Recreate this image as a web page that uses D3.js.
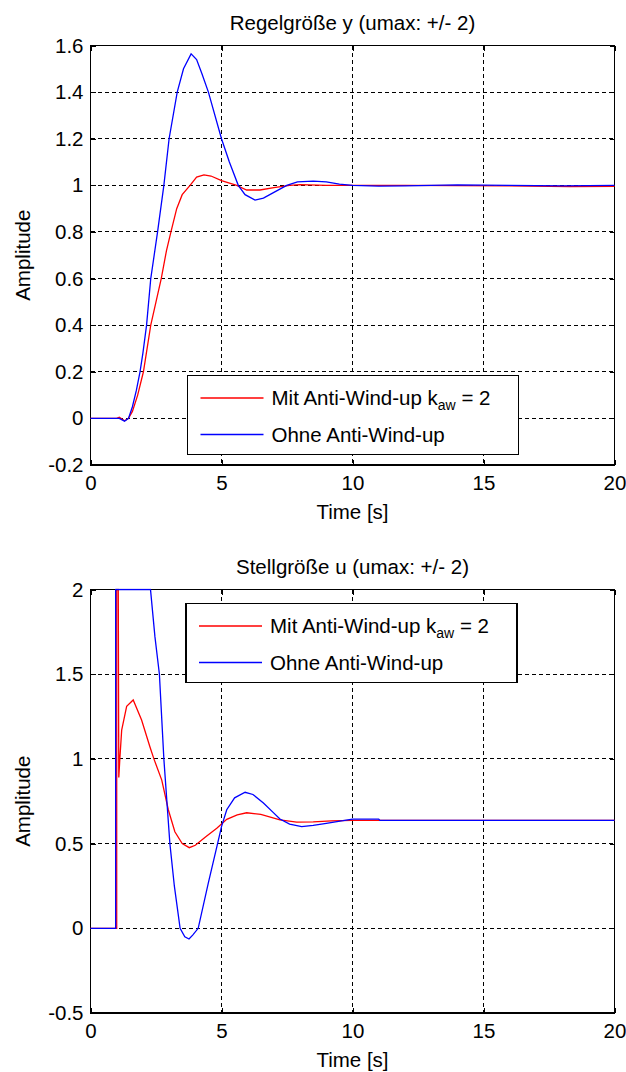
<!DOCTYPE html>
<html><head><meta charset="utf-8">
<script src="https://cdn.jsdelivr.net/npm/d3@7"></script>
<style>body{margin:0;background:#fff}svg{display:block}text{font-family:"Liberation Sans",Arial,sans-serif;fill:#000}</style>
</head><body>
<script>
// ---- data ----
const xTicks = [0, 5, 10, 15, 20];
const yTicksTop = [-0.2, 0, 0.2, 0.4, 0.6, 0.8, 1, 1.2, 1.4, 1.6];
const yTickLabelsTop = ["-0.2", "0", "0.2", "0.4", "0.6", "0.8", "1", "1.2", "1.4", "1.6"];
const yTicksBot = [-0.5, 0, 0.5, 1, 1.5, 2];
const yTickLabelsBot = ["-0.5", "0", "0.5", "1", "1.5", "2"];
const seriesNames = ["Mit Anti-Wind-up k", "Ohne Anti-Wind-up"];

// Regelgröße y, with anti-windup (red)
const tYRed = [0, 1.0, 1.1, 1.3, 1.45, 1.6, 1.8, 2.02, 2.3, 2.5, 2.7, 2.9, 3.07, 3.29, 3.5, 3.8, 4.05, 4.33, 4.6, 5.0, 5.58, 5.96, 6.47, 7.0, 7.6, 8.0, 9.0, 12.0, 16.0, 18.3, 20.0];
const yRed = [0, 0, 0.005, -0.01, 0.0, 0.03, 0.1, 0.2, 0.4, 0.5, 0.6, 0.72, 0.8, 0.9, 0.96, 1.0, 1.035, 1.045, 1.04, 1.02, 1.0, 0.98, 0.98, 0.99, 1.0, 1.003, 1.0, 1.0, 0.998, 0.995, 0.996];
// Regelgröße y, without anti-windup (blue)
const tYBlue = [0, 1.0, 1.1, 1.3, 1.45, 1.6, 1.75, 1.89, 2.0, 2.14, 2.3, 2.56, 2.8, 3.0, 3.31, 3.55, 3.84, 4.05, 4.25, 4.5, 5.0, 5.3, 5.64, 5.9, 6.28, 6.6, 7.0, 7.49, 7.9, 8.5, 9.0, 9.5, 10.0, 11.0, 12.0, 14.0, 16.0, 18.0, 20.0];
const yBlue = [0, 0, 0.0, -0.012, 0.0, 0.05, 0.12, 0.2, 0.28, 0.4, 0.6, 0.8, 1.0, 1.2, 1.4, 1.5, 1.564, 1.54, 1.48, 1.4, 1.2, 1.1, 1.0, 0.96, 0.937, 0.945, 0.97, 1.0, 1.015, 1.018, 1.015, 1.005, 1.0, 0.997, 0.998, 1.002, 1.0, 0.998, 1.0];

// Stellgröße u, with anti-windup (red)
const tURed = [0, 1.0, 1.0, 1.06, 1.08, 1.12, 1.19, 1.38, 1.63, 1.95, 2.27, 2.42, 2.72, 2.97, 3.22, 3.5, 3.77, 4.0, 4.4, 4.82, 5.2, 5.6, 5.96, 6.5, 7.23, 7.87, 8.5, 9.2, 10.0, 12.0, 20.0];
const uRed = [0, 0, 2.0, 2.0, 0.89, 1.0, 1.17, 1.31, 1.348, 1.23, 1.07, 1.0, 0.875, 0.70, 0.57, 0.5, 0.476, 0.49, 0.54, 0.59, 0.643, 0.67, 0.682, 0.672, 0.64, 0.627, 0.628, 0.634, 0.637, 0.637, 0.637];
// Stellgröße u, without anti-windup (blue)
const tUBlue = [0, 0.96, 0.96, 2.29, 2.46, 2.63, 2.8, 3.03, 3.2, 3.42, 3.6, 3.76, 3.9, 4.11, 4.5, 4.85, 5.0, 5.2, 5.5, 5.9, 6.2, 6.6, 7.0, 7.23, 7.6, 8.06, 8.5, 9.0, 9.64, 10.0, 11.0, 11.05, 20.0];
const uBlue = [0, 0, 2.0, 2.0, 1.72, 1.5, 1.0, 0.5, 0.25, 0.0, -0.05, -0.063, -0.04, 0.0, 0.27, 0.5, 0.6, 0.7, 0.77, 0.803, 0.79, 0.74, 0.68, 0.645, 0.615, 0.60, 0.608, 0.62, 0.635, 0.645, 0.645, 0.637, 0.637];

// ---- drawing ----
const W = 626, H = 1072;
const svg = d3.select("body").append("svg").attr("width", W).attr("height", H);
const FS = 20.5;
const x = d3.scaleLinear().domain([0, 20]).range([90.5, 614.5]);

function panel(opts) {
  const y = d3.scaleLinear().domain(opts.yDomain).range(opts.yRange);
  const g = svg.append("g");
  const [x0, x1] = x.range();
  const yb = opts.yRange[0], yt = opts.yRange[1];
  const cid = "clip" + opts.id;
  svg.append("clipPath").attr("id", cid).append("rect")
    .attr("x", x0 - 1).attr("y", yt - 1).attr("width", x1 - x0 + 2).attr("height", yb - yt + 2);

  // grid
  g.selectAll(".gx").data(xTicks.slice(1, -1)).enter().append("line")
    .attr("x1", d => x(d)).attr("x2", d => x(d)).attr("y1", yt).attr("y2", yb)
    .attr("stroke", "#000").attr("stroke-width", 1).attr("stroke-dasharray", "4,3")
    .attr("shape-rendering", "crispEdges");
  g.selectAll(".gy").data(opts.yTicks.slice(1, -1)).enter().append("line")
    .attr("x1", x0).attr("x2", x1).attr("y1", d => y(d)).attr("y2", d => y(d))
    .attr("stroke", "#000").attr("stroke-width", 1).attr("stroke-dasharray", "4,3")
    .attr("shape-rendering", "crispEdges");

  // axes (ticks inside)
  const fmt = d => opts.yLabels[opts.yTicks.indexOf(d)];
  const axL = g.append("g").attr("transform", `translate(${x0},0)`)
    .call(d3.axisLeft(y).tickValues(opts.yTicks).tickFormat(fmt).tickSize(-5).tickPadding(7));
  const axR = g.append("g").attr("transform", `translate(${x1},0)`)
    .call(d3.axisRight(y).tickValues(opts.yTicks).tickFormat("").tickSize(-5));
  const axB = g.append("g").attr("transform", `translate(0,${yb})`)
    .call(d3.axisBottom(x).tickValues(xTicks).tickFormat(d3.format("d")).tickSize(-5).tickPadding(10));
  const axT = g.append("g").attr("transform", `translate(0,${yt})`)
    .call(d3.axisTop(x).tickValues(xTicks).tickFormat("").tickSize(-5));
  [axL, axR, axB, axT].forEach(a => {
    a.select(".domain").remove();
    a.selectAll("line").attr("stroke", "#000").attr("shape-rendering", "crispEdges");
    a.selectAll("text").attr("font-size", FS).attr("font-family", '"Liberation Sans",Arial,sans-serif').attr("fill", "#000");
  });

  // box
  g.append("rect").attr("x", x0).attr("y", yt).attr("width", x1 - x0).attr("height", yb - yt)
    .attr("fill", "none").attr("stroke", "#000").attr("stroke-width", 1.2).attr("shape-rendering", "crispEdges");

  // curves
  const line = d3.line().x(d => x(d[0])).y(d => y(d[1]));
  const cg = g.append("g").attr("clip-path", `url(#${cid})`);
  opts.series.forEach(s => {
    cg.append("path").datum(d3.zip(s.t, s.v)).attr("d", line)
      .attr("fill", "none").attr("stroke", s.color).attr("stroke-width", 1.3);
  });

  // labels
  g.append("text").attr("x", (x0 + x1) / 2).attr("y", yt - 23).attr("text-anchor", "middle")
    .attr("dominant-baseline", "central").attr("font-size", FS).text(opts.title);
  g.append("text").attr("x", (x0 + x1) / 2).attr("y", yb + 46).attr("text-anchor", "middle")
    .attr("dominant-baseline", "central").attr("font-size", FS).text("Time [s]");
  g.append("text").attr("transform", `translate(22,${(yt + yb) / 2}) rotate(-90)`).attr("text-anchor", "middle")
    .attr("dominant-baseline", "central").attr("font-size", FS).text("Amplitude");

  // legend
  const L = opts.legend;
  const lg = g.append("g");
  lg.append("rect").attr("x", L.x).attr("y", L.y).attr("width", 331).attr("height", 79)
    .attr("fill", "#fff").attr("stroke", "#000").attr("stroke-width", 1.2).attr("shape-rendering", "crispEdges");
  const rows = [{ c: "#ff0000", dy: 22.5 }, { c: "#0000ff", dy: 59 }];
  rows.forEach((r, i) => {
    lg.append("line").attr("x1", L.x + 13).attr("x2", L.x + 76).attr("y1", L.y + r.dy).attr("y2", L.y + r.dy)
      .attr("stroke", r.c).attr("stroke-width", 1.3);
    const t = lg.append("text").attr("x", L.x + 84).attr("y", L.y + r.dy + 7.3).attr("font-size", FS);
    t.append("tspan").text(seriesNames[i]);
    if (i === 0) {
      t.append("tspan").attr("font-size", 14).attr("dy", 5).text("aw");
      t.append("tspan").attr("dy", -5).text(" = 2");
    }
  });
}

panel({
  id: "top", yDomain: [-0.2, 1.6], yRange: [465, 45.5], yTicks: yTicksTop, yLabels: yTickLabelsTop,
  title: "Regelgröße y (umax: +/- 2)",
  series: [{ t: tYRed, v: yRed, color: "#ff0000" }, { t: tYBlue, v: yBlue, color: "#0000ff" }],
  legend: { x: 187.5, y: 375.5 }
});
panel({
  id: "bot", yDomain: [-0.5, 2], yRange: [1013, 589.5], yTicks: yTicksBot, yLabels: yTickLabelsBot,
  title: "Stellgröße u (umax: +/- 2)",
  series: [{ t: tURed, v: uRed, color: "#ff0000" }, { t: tUBlue, v: uBlue, color: "#0000ff" }],
  legend: { x: 186, y: 603.5 }
});
</script>
</body></html>
